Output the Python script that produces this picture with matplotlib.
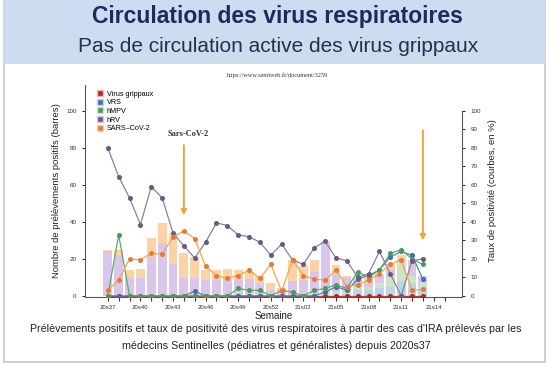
import numpy as np
import matplotlib
matplotlib.use('Agg')
import matplotlib.pyplot as plt
from matplotlib.patches import Rectangle
from matplotlib.lines import Line2D

plt.rcParams['font.family'] = ['Liberation Sans', 'DejaVu Sans']

# week tick labels (every week is ticked, every third labelled)
weeks = ['20s37', '20s38', '20s39', '20s40', '20s41', '20s42', '20s43', '20s44',
         '20s45', '20s46', '20s47', '20s48', '20s49', '20s50', '20s51', '20s52',
         '20s53', '21s01', '21s02', '21s03', '21s04', '21s05', '21s06', '21s07',
         '21s08', '21s09', '21s10', '21s11', '21s12', '21s13', '21s14', '21s15']

# positive samples (bars), 20s37 -> 21s13
n_grippe = [0] * 30
n_vrs = [0, 0, 0, 0, 0, 0, 0, 0, 1, 0, 0, 0, 0, 0, 0, 0, 0, 0, 0, 0,
         0, 0, 1, 3, 3, 4, 5, 8, 7, 4]
n_hmpv = [0, 0, 0, 0, 0, 0, 0, 0, 0, 0, 0, 0, 1, 1, 1, 0, 0.5, 0, 0, 1,
          1, 2, 1, 3, 2, 3, 6, 9, 4, 3]
n_hrv = [24, 22, 9.5, 9.5, 21, 28.5, 17, 9.5, 8.5, 8.5, 8.5, 9, 8, 8, 6, 3, 3, 8, 8.5, 12,
         27, 10, 8, 3, 2, 4, 3, 0, 7.5, 4]
n_sars = [1, 3, 4.5, 5, 10.5, 11, 17, 13.5, 11.5, 5.5, 5.5, 5.5, 5, 4, 4, 4, 1, 11.5, 7.5, 6.5,
          1.5, 4.5, 1, 1, 2.5, 1, 3.5, 5, 1, 0]

# positivity rate in % (curves)
t_grippe = [0] * 30
t_vrs = [0, 0, 0, 0, 0, 0, 0, 0, 2.5, 0, 0, 0, 0, 0, 0, 0, 0, 0, 0, 0,
         2, 5, 3, 9, 11, 14, 21, 24, 22, 9]
t_hmpv = [0, 33, 0, 0, 0, 0, 0, 0, 0, 0, 0, 0, 4, 3, 3, 0, 3, 2, 0, 3,
          4, 6, 4, 13, 10, 14, 23, 25, 20, 17]
t_hrv = [80, 64.5, 53, 38.5, 59, 53, 34, 27, 20.5, 29, 39.5, 38, 33, 32, 29, 22, 28, 19.5, 17, 26,
         29.5, 20.5, 19, 10, 12, 24, 12, 0, 19, 20]
t_sars = [3, 8.6, 20, 19.5, 23, 22.5, 32, 35, 31, 16, 11, 9.5, 11, 14, 9.5, 17, 2.5, 19.5, 11, 9,
          8.6, 14, 5, 6, 8.6, 12, 17, 19.5, 3, 3.5]

labels = ['Virus grippaux', 'VRS', 'hMPV', 'hRV', 'SARS\u2013CoV-2']
bar_col = ['#f0b4b4', '#bcd3ea', '#cbe5c6', '#d9c6ea', '#fcd2a6']
line_col = ['#c0392b', '#4f80bb', '#5aa96a', '#8a8099', '#f2a548']
mark_col = ['#a52a2a', '#3f6fae', '#4b9a5c', '#6a5a82', '#e77b35']

fig = plt.figure(figsize=(5.5, 3.67), dpi=100)
fig.patch.set_facecolor('white')

def fx(x):
    return x / 550

def fy(y):
    return 1 - y / 367

# slide frame and title band (behind the axes)
fig.patches.append(Rectangle((fx(4), fy(362)), fx(541), 362 / 367, transform=fig.transFigure,
                             facecolor='white', edgecolor='#c8c8c8', lw=1.2, zorder=-10))
fig.patches.append(Rectangle((fx(4), fy(64)), fx(541), 64 / 367, transform=fig.transFigure,
                             facecolor='#cddcf0', edgecolor='none', zorder=-9))
fig.text(0.505, fy(17), 'Circulation des virus respiratoires', ha='center', va='center',
         fontsize=16.5, fontweight='bold', color='#1d2a5c')
fig.text(0.505, fy(46), 'Pas de circulation active des virus grippaux', ha='center', va='center',
         fontsize=15, color='#26304f')
fig.text(fx(277), fy(75), 'https://www.sentiweb.fr/document/3259', ha='center', va='center',
         fontsize=4.5, family='Liberation Serif', color='#333333')

ax = fig.add_axes([fx(85), fy(297), fx(462 - 85), (297 - 85) / 367])
ax2 = ax.twinx()

x = np.arange(len(n_hrv))
bottom = np.zeros(len(x))
for vals, c in zip([n_grippe, n_vrs, n_hmpv, n_hrv, n_sars], bar_col):
    ax.bar(x, vals, width=0.82, bottom=bottom, color=c, edgecolor='none', zorder=2)
    bottom += np.array(vals)

for vals, lc, mc in zip([t_grippe, t_vrs, t_hmpv, t_hrv, t_sars], line_col, mark_col):
    ax2.plot(x, vals, color=lc, lw=0.9, marker='o', ms=2.6, mfc=mc, mec=mc, zorder=3)

for a in (ax, ax2):
    a.set_xlim(-2.1, 32.6)
    a.set_ylim(-0.6, 114)
    a.patch.set_visible(False)
    a.spines['top'].set_visible(False)

ax.spines['right'].set_visible(False)
ax2.spines['left'].set_visible(False)
ax2.spines['bottom'].set_visible(False)
ax2.spines['right'].set_bounds(0, 100)
for s in ('left', 'bottom'):
    ax.spines[s].set_color('#555555')
    ax.spines[s].set_linewidth(0.8)
ax2.spines['right'].set_color('#555555')
ax2.spines['right'].set_linewidth(0.8)

ax.set_yticks([0, 20, 40, 60, 80, 100])
ax2.set_yticks(range(0, 101, 10))
ax.set_xticks(range(len(weeks)))
ax.set_xticklabels([w if i % 3 == 0 else '' for i, w in enumerate(weeks)])
ax.tick_params(axis='x', length=3, width=0.8, color='#7a1f1f', labelsize=4.3, pad=3,
               labelcolor='#333333')
ax.tick_params(axis='y', length=2.5, width=0.6, labelsize=4.5, labelcolor='#333333')
ax2.tick_params(axis='y', length=2.5, width=0.6, labelsize=4.5, labelcolor='#333333')

ax.set_ylabel('Nombre de prélèvements positifs (barres)', fontsize=6.8, color='#222222', labelpad=4)
ax2.set_ylabel('Taux de positivité (courbes, en %)', fontsize=6.8, color='#222222', labelpad=5)
ax.set_xlabel('Semaine', fontsize=7, color='#222222', labelpad=0.5)

handles = [Line2D([], [], ls='none', marker='s', ms=4.2, mfc=m, mec=b, mew=1.0)
           for b, m in zip(bar_col, mark_col)]
leg = ax.legend(handles, labels, loc='upper left', bbox_to_anchor=(fx(93), fy(87)),
                bbox_transform=fig.transFigure, frameon=False, fontsize=5.2,
                handlelength=0.8, handletextpad=0.6, labelspacing=0.22, borderpad=0)

arrow_col = '#eaa53c'
ax2.annotate('', xy=(7, 42), xytext=(7, 83),
             arrowprops=dict(arrowstyle='-|>', color=arrow_col, lw=1.4, mutation_scale=8))
ax2.annotate('', xy=(29, 28.5), xytext=(29, 91),
             arrowprops=dict(arrowstyle='-|>', color=arrow_col, lw=1.4, mutation_scale=8))
ax2.text(7.4, 87.5, 'Sars-CoV-2', ha='center', va='center', fontsize=6,
         fontweight='bold', family='Liberation Serif', color='#333333')

fig.text(fx(276), fy(329), "Prélèvements positifs et taux de positivité des virus respiratoires "
         "à partir des cas d'IRA prélevés par les", ha='center', va='center', fontsize=7.7,
         color='#222222')
fig.text(fx(276), fy(346), 'médecins Sentinelles (pédiatres et généralistes) depuis 2020s37',
         ha='center', va='center', fontsize=7.7, color='#222222')

fig.savefig('out.png', dpi=100)
